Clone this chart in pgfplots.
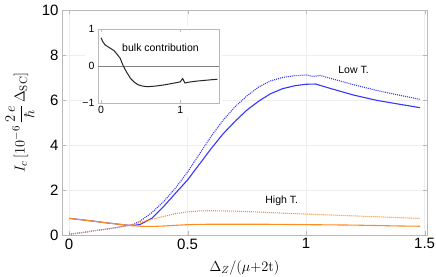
\documentclass[border=0pt]{standalone}
\usepackage[no-math]{fontspec}
\usepackage{pgfplots}
\pgfplotsset{compat=1.18}
\newfontfamily\arial{Liberation Sans}
\definecolor{mblue}{RGB}{55,55,255}
\definecolor{morange}{RGB}{255,140,30}
\definecolor{framegray}{RGB}{185,185,185}
\definecolor{gridgray}{RGB}{238,238,238}
\begin{document}
\begin{tikzpicture}
\useasboundingbox (-62pt,-41pt) rectangle (374pt,235pt);
\begin{axis}[
  scale only axis, width=365pt, height=225pt,
  xmin=-0.03, xmax=1.51, ymin=0, ymax=10,
  xtick={0,0.5,1,1.5}, ytick={0,2,4,6,8,10},
  xticklabels={0,0.5,1,1.5}, yticklabels={0,2,4,6,8,10},
  tick label style={font=\arial\fontsize{15}{15}\selectfont},
  axis line style={framegray}, tick style={framegray},
  tick align=inside, major tick length=4pt,
  grid=major, grid style={gridgray, line width=0.5pt},
  xlabel={$\Delta_Z/(\mu{+}2\mathrm{t})$},
  ylabel={$I_c\,[10^{-6}\,\displaystyle\frac{2\,e}{\hbar}\,\Delta_{\mathrm{SC}}]$},
  label style={font=\fontsize{14}{14}\selectfont},
  ylabel style={font=\fontsize{15.5}{15.5}\selectfont},
  xlabel style={at={(axis description cs:0.5,-0.145)}, anchor=center},
  ylabel style={at={(axis description cs:-0.115,0.5)}, anchor=center},
]
\addplot[mblue, line width=1.1pt, dash pattern=on 1pt off 1pt] coordinates {
(0,0.03) (0.05,0.1) (0.1,0.18) (0.15,0.25) (0.2,0.33) (0.25,0.43) (0.27,0.47)
(0.3,0.62) (0.35,1.0) (0.4,1.5) (0.45,2.1) (0.5,2.8) (0.55,3.6) (0.6,4.4)
(0.65,5.1) (0.7,5.7) (0.75,6.18) (0.8,6.58) (0.85,6.85) (0.9,7.0) (0.95,7.08)
(1.0,7.11) (1.03,7.05) (1.06,7.09) (1.1,6.97) (1.2,6.68) (1.3,6.42) (1.4,6.2) (1.48,6.03)};
\addplot[mblue, line width=1.1pt] coordinates {
(0,0.74) (0.05,0.68) (0.1,0.62) (0.15,0.55) (0.2,0.49) (0.25,0.43) (0.27,0.42)
(0.3,0.47) (0.35,0.75) (0.4,1.28) (0.45,1.87) (0.5,2.45) (0.55,3.15) (0.6,3.85)
(0.65,4.5) (0.7,5.05) (0.75,5.55) (0.8,5.95) (0.85,6.28) (0.9,6.5) (0.95,6.63)
(1.0,6.7) (1.04,6.71) (1.1,6.52) (1.2,6.22) (1.3,5.98) (1.4,5.8) (1.48,5.66)};
\addplot[morange, line width=1.1pt, dash pattern=on 1pt off 1pt] coordinates {
(0,0.03) (0.05,0.1) (0.1,0.18) (0.15,0.25) (0.2,0.33) (0.25,0.42) (0.3,0.55)
(0.35,0.7) (0.4,0.83) (0.45,0.95) (0.5,1.03) (0.55,1.07) (0.6,1.08) (0.7,1.06)
(0.8,1.02) (0.9,0.97) (1.0,0.93) (1.1,0.89) (1.2,0.85) (1.3,0.81) (1.4,0.77) (1.48,0.74)};
\addplot[morange, line width=1.1pt] coordinates {
(0,0.74) (0.05,0.68) (0.1,0.62) (0.15,0.55) (0.2,0.49) (0.25,0.43) (0.3,0.39)
(0.35,0.38) (0.4,0.4) (0.45,0.43) (0.5,0.46) (0.6,0.48) (0.7,0.48) (0.8,0.48)
(0.9,0.47) (1.0,0.46) (1.1,0.45) (1.2,0.44) (1.3,0.42) (1.4,0.40) (1.48,0.39)};
\node[font=\arial\fontsize{10.5}{10.5}\selectfont] at (axis cs:1.2,7.33) {Low T.};
\node[font=\arial\fontsize{10.5}{10.5}\selectfont] at (axis cs:0.897,1.51) {High T.};
\end{axis}
\fill[white] (23pt,118pt) rectangle (160pt,209pt);
\begin{axis}[
  scale only axis, width=121pt, height=74pt,
  at={(36pt,132pt)}, anchor=south west,
  xmin=-0.04, xmax=1.49, ymin=-1, ymax=1,
  xtick={0,1}, ytick={-1,0,1},
  xticklabels={0,1}, yticklabels={−1,0,1},
  tick label style={font=\arial\fontsize{10.5}{10.5}\selectfont},
  axis line style={framegray}, tick style={framegray},
  tick align=inside, major tick length=3pt,
]
\addplot[gray, line width=0.7pt] coordinates {(-0.04,0) (1.49,0)};
\addplot[black!85, line width=1pt] coordinates {
(0,0.76) (0.02,0.66) (0.05,0.57) (0.1,0.5) (0.16,0.42) (0.2,0.32) (0.24,0.21)
(0.28,0.0) (0.32,-0.16) (0.37,-0.33) (0.42,-0.44) (0.47,-0.51) (0.52,-0.54)
(0.58,-0.56) (0.7,-0.54) (0.8,-0.51) (0.9,-0.47) (1.0,-0.43) (1.03,-0.34)
(1.06,-0.46) (1.1,-0.44) (1.2,-0.41) (1.3,-0.39) (1.4,-0.37) (1.47,-0.36)};
\node[font=\arial\fontsize{10.5}{10.5}\selectfont] at (axis cs:0.75,0.48) {bulk contribution};
\end{axis}
\end{tikzpicture}
\end{document}
